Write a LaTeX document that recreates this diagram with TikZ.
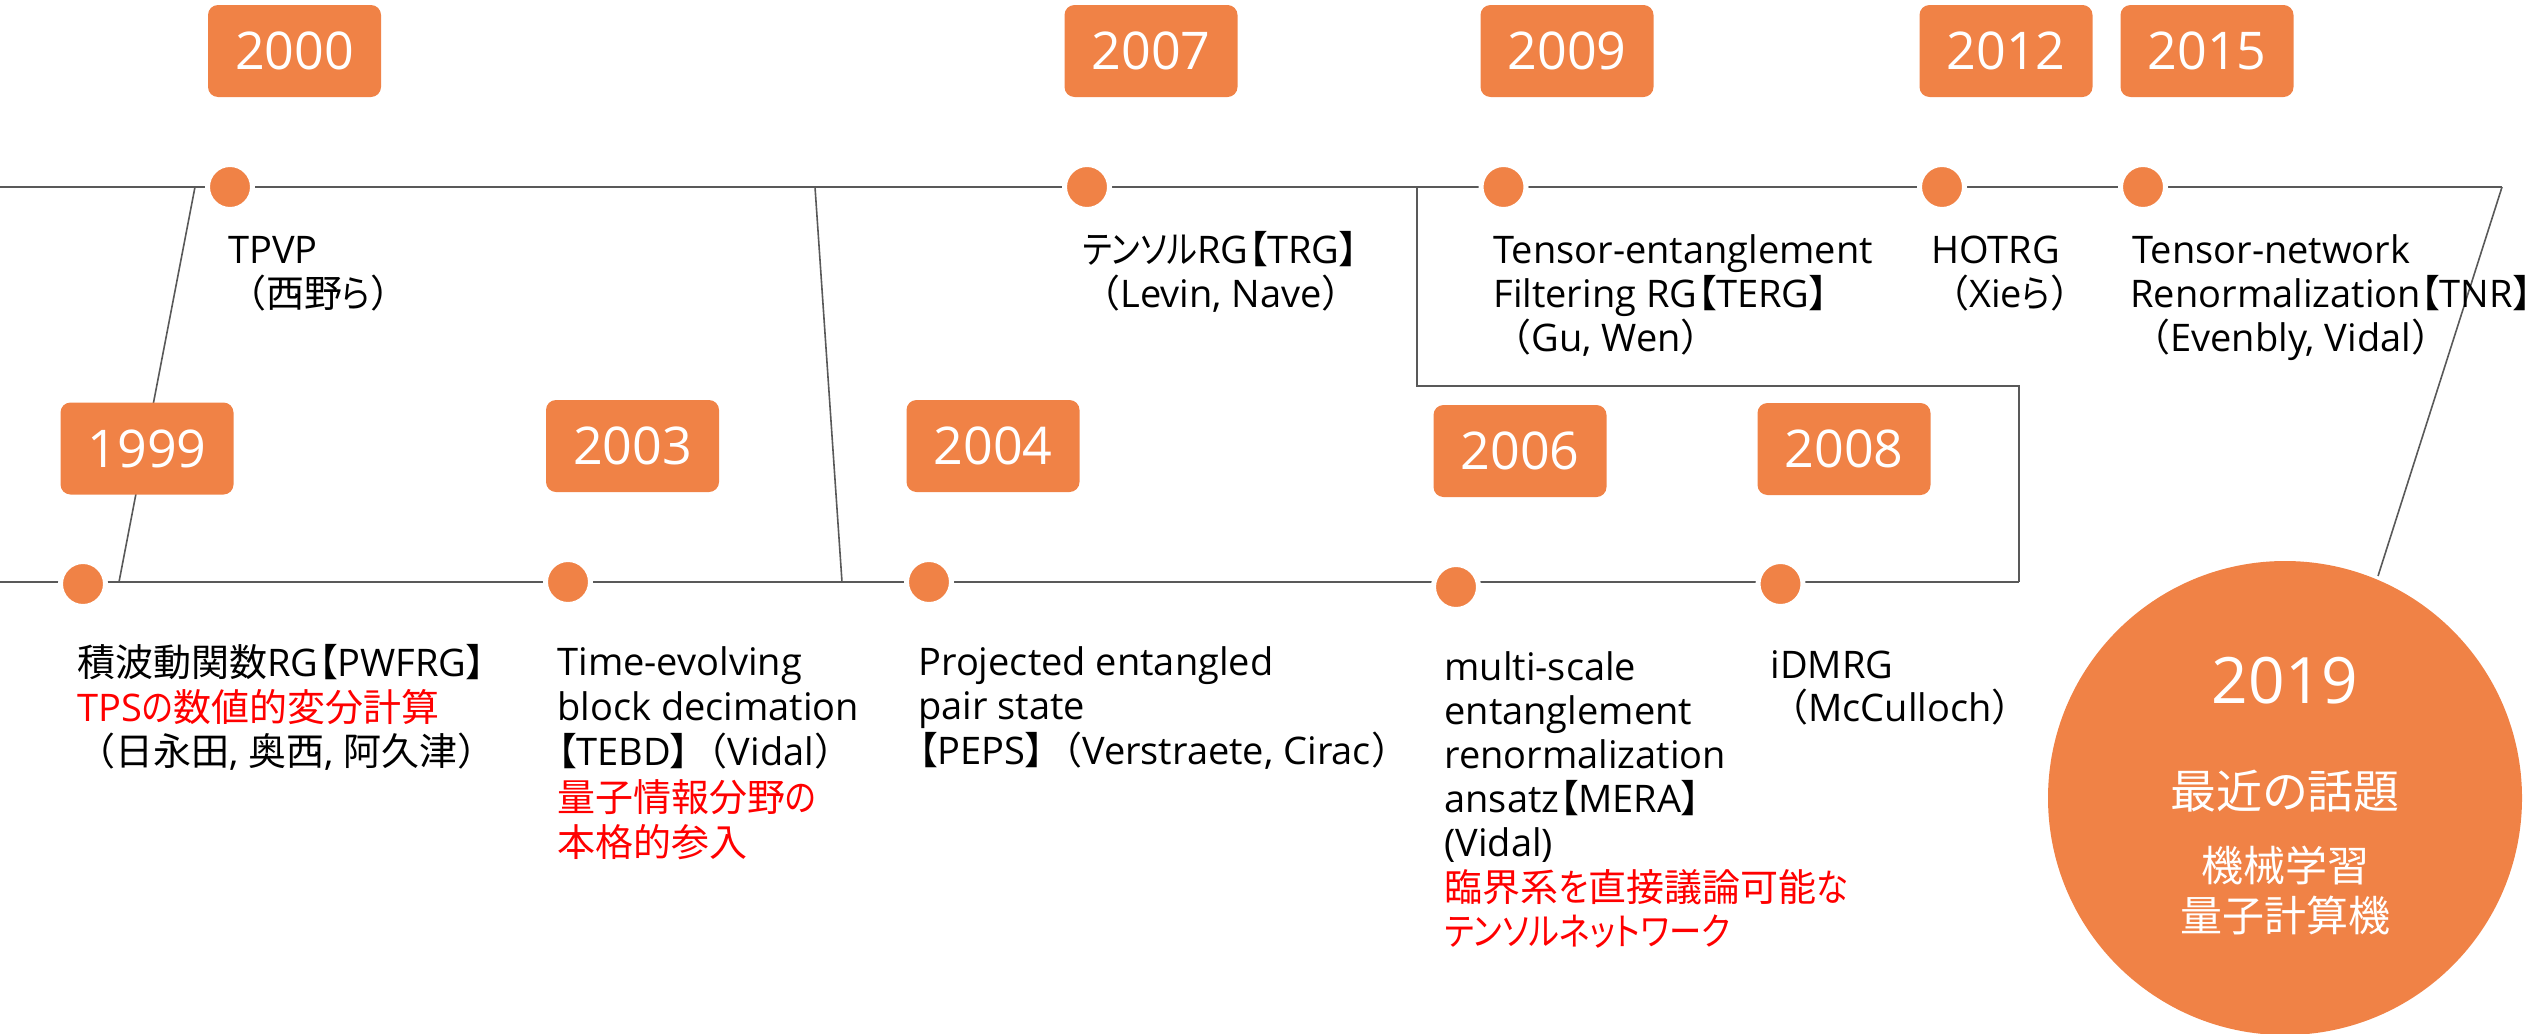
\documentclass[tikz,border=0pt]{standalone}
\usepackage{fontspec}
\setmainfont{Open Sans}
\newfontfamily\jp[RawFeature=+palt]{Noto Sans CJK JP}
\newfontfamily\jk[RawFeature=+palt,FakeStretch=0.85]{Noto Sans CJK JP}
\newfontfamily\jpw{Noto Sans CJK JP}
\newcommand\jlp{{\jpw （}}
\newcommand\jrp{{\jpw ）}}
\newcommand\jlb{{\jp 【}}
\newcommand\jrb{{\jp 】}}
\newcommand\lblfont{\fontsize{19pt}{23pt}\selectfont}
\newcommand\yearfont{\fontsize{26pt}{30pt}\selectfont}
\definecolor{accent}{HTML}{F08246}
\definecolor{rulegray}{HTML}{595959}
\tikzset{
  yearbox/.style={fill=accent, rounded corners=5pt, minimum width=86.5pt,
    minimum height=46pt, inner sep=0pt, text=white, font=\yearfont},
  dotnode/.style={circle, fill=accent, draw=white, line width=2.5pt,
    minimum size=22.5pt, inner sep=0pt},
  lbl/.style={anchor=base west, inner sep=0pt, font=\lblfont,
    text height=15pt, text depth=4pt},
  redlbl/.style={lbl, text=red},
  mainline/.style={draw=rulegray, line width=1.3pt},
  boxline/.style={draw=rulegray, line width=1.1pt},
  thinline/.style={draw=rulegray, line width=0.8pt},
  ctext/.style={anchor=base, inner sep=0pt, text=white}
}
\begin{document}
\begin{tikzpicture}[x=0.5pt,y=-0.5pt]
\useasboundingbox (0,0) rectangle (2542,1033);

% timeline rails
\coordinate (tl0) at (0,187);
\coordinate (tr)  at (2502,187);
\coordinate (ce)  at (2378,576);
\coordinate (bl0) at (0,582);
\coordinate (br)  at (2019,582);
\coordinate (rb)  at (2019,386);
\coordinate (lb)  at (1417,386);
\coordinate (lt)  at (1417,187);
\coordinate (s1a) at (195,187);
\coordinate (s1b) at (119,582);
\coordinate (s2a) at (815,187);
\coordinate (s2b) at (842,582);

\draw[mainline] (tl0) -- (tr);
\draw[thinline] (tr) -- (ce);
\draw[mainline] (bl0) -- (br);
\draw[boxline] (br) -- (rb) -- (lb) -- (lt);
\draw[thinline] (s1a) -- (s1b);
\draw[thinline] (s2a) -- (s2b);

% event dots
\node[dotnode] (d00) at (230,187) {};
\node[dotnode] (d07) at (1087,187) {};
\node[dotnode] (d09) at (1503.5,187) {};
\node[dotnode] (d12) at (1942,187) {};
\node[dotnode] (d15) at (2143,187) {};
\node[dotnode] (d99) at (83,584) {};
\node[dotnode] (d03) at (568,582) {};
\node[dotnode] (d04) at (929,582) {};
\node[dotnode] (d06) at (1456,587) {};
\node[dotnode] (d08) at (1780.5,584) {};

% year tags
\node[yearbox] (y00) at (294.5,51) {2000};
\node[yearbox] (y07) at (1151,51) {2007};
\node[yearbox] (y09) at (1567,51) {2009};
\node[yearbox] (y12) at (2006,51) {2012};
\node[yearbox] (y15) at (2207,51) {2015};
\node[yearbox] (y99) at (147,448.5) {1999};
\node[yearbox] (y03) at (632.5,446) {2003};
\node[yearbox] (y04) at (993,446) {2004};
\node[yearbox] (y06) at (1520,451) {2006};
\node[yearbox] (y08) at (1844,449) {2008};

% final bubble
\node[circle, fill=accent, minimum size=237pt, inner sep=0pt] (c19) at (2285,798) {};
\node[ctext, font=\fontsize{32pt}{36pt}\selectfont] (c19a) at (2285,703) {2019};
\node[ctext, font=\fontsize{23pt}{27pt}\selectfont\jp] (c19b) at (2285,808) {最近の話題};
\node[ctext, font=\fontsize{21pt}{25pt}\selectfont\jp] (c19c) at (2285,881) {機械学習};
\node[ctext, font=\fontsize{21pt}{25pt}\selectfont\jp] (c19d) at (2285,931) {量子計算機};

% 1999
\node[lbl] (t99a) at (77,676) {{\jp 積波動関数}RG\jlb PWFRG\jrb};
\node[redlbl] (t99b) at (77,721) {TPS{\jk の}{\jp 数値的変分計算}};
\node[lbl] (t99c) at (77,765) {\jlp{\jp 日永田}, {\jp 奥西}, {\jp 阿久津}\jrp};

% 2000
\node[lbl] (t00a) at (228,263) {TPVP};
\node[lbl] (t00b) at (228,307) {\jlp{\jp 西野}{\jk ら}\jrp};

% 2003
\node[lbl] (t03a) at (557,675) {Time-evolving};
\node[lbl] (t03b) at (557,720) {block decimation};
\node[lbl] (t03c) at (557,765) {\jlb TEBD\jrb\jlp Vidal\jrp};
\node[redlbl] (t03d) at (557,811) {{\jp 量子情報分野}{\jk の}};
\node[redlbl] (t03e) at (557,856) {{\jp 本格的参入}};

% 2004
\node[lbl] (t04a) at (918,675) {Projected entangled};
\node[lbl] (t04b) at (918,719.5) {pair state};
\node[lbl] (t04c) at (918,764) {\jlb PEPS\jrb\jlp Verstraete, Cirac\jrp};

% 2006
\node[lbl] (t06a) at (1444,680) {multi-scale};
\node[lbl] (t06b) at (1444,724) {entanglement};
\node[lbl] (t06c) at (1444,768) {renormalization};
\node[lbl] (t06d) at (1444,812) {ansatz\jlb MERA\jrb};
\node[lbl] (t06e) at (1444,856) {(Vidal)};
\node[redlbl] (t06f) at (1444,901) {{\jp 臨界系}{\jk を}{\jp 直接議論可能}{\jk な}};
\node[redlbl] (t06g) at (1444,945) {{\jk テンソルネットワーク}};

% 2007
\node[lbl] (t07a) at (1082,263) {{\jk テンソル}RG\jlb TRG\jrb};
\node[lbl] (t07b) at (1082,307) {\jlp Levin, Nave\jrp};

% 2008
\node[lbl] (t08a) at (1770,678) {iDMRG};
\node[lbl] (t08b) at (1770,721) {\jlp McCulloch\jrp};

% 2009
\node[lbl] (t09a) at (1493,263) {Tensor-entanglement};
\node[lbl] (t09b) at (1493,307) {Filtering RG\jlb TERG\jrb};
\node[lbl] (t09c) at (1493,351) {\jlp Gu, Wen\jrp};

% 2012
\node[lbl] (t12a) at (1931,263) {HOTRG};
\node[lbl] (t12b) at (1931,307) {\jlp Xie{\jk ら}\jrp};

% 2015
\node[lbl] (t15a) at (2132,263) {Tensor-network};
\node[lbl] (t15b) at (2130,307) {Renormalization\jlb TNR\jrb};
\node[lbl] (t15c) at (2132,351) {\jlp Evenbly, Vidal\jrp};
\end{tikzpicture}
\end{document}
